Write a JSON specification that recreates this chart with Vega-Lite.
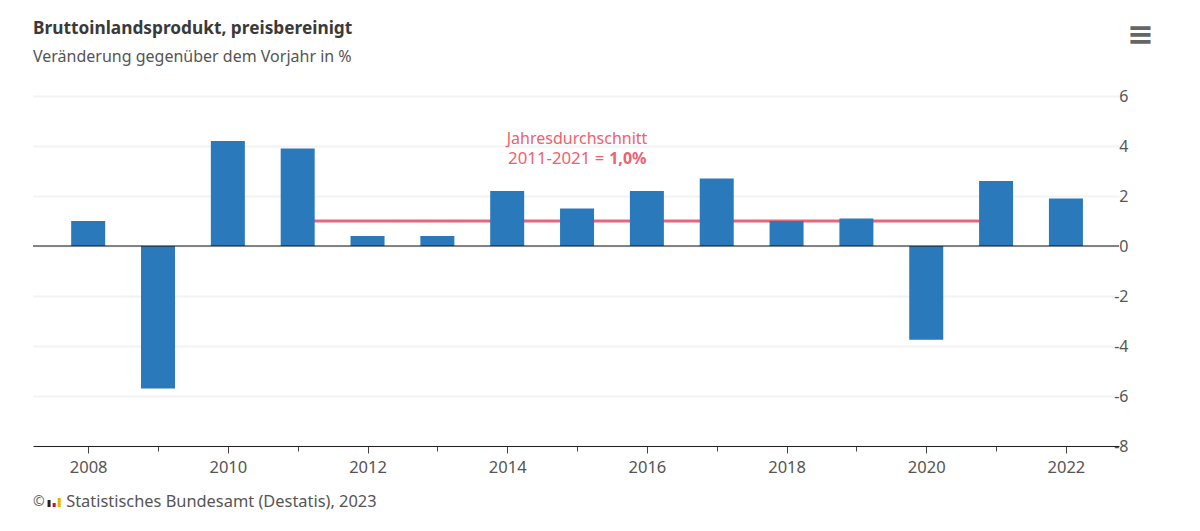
{
"$schema":"https://vega.github.io/schema/vega-lite/v6.json",
"width":1086,"height":350,
"autosize":"none",
"padding":{"left":33,"top":96,"right":81,"bottom":85},
"background":"white",
"config":{"view":{"stroke":null},"font":"Noto Sans"},
"title":{"text":"Bruttoinlandsprodukt, preisbereinigt","subtitle":"Veränderung gegenüber dem Vorjahr in %","anchor":"start","frame":"group","offset":-46,"font":"Noto Sans","fontSize":17.3,"fontWeight":"bold","color":"#3a3a3a","subtitleFont":"Noto Sans","subtitleFontSize":16,"subtitleColor":"#555555","subtitlePadding":11},
"data":{"values":[
{"Jahr":2008,"Wert":1.0},{"Jahr":2009,"Wert":-5.7},{"Jahr":2010,"Wert":4.2},{"Jahr":2011,"Wert":3.9},{"Jahr":2012,"Wert":0.4},{"Jahr":2013,"Wert":0.4},{"Jahr":2014,"Wert":2.2},{"Jahr":2015,"Wert":1.5},{"Jahr":2016,"Wert":2.2},{"Jahr":2017,"Wert":2.7},{"Jahr":2018,"Wert":1.0},{"Jahr":2019,"Wert":1.1},{"Jahr":2020,"Wert":-3.75},{"Jahr":2021,"Wert":2.6},{"Jahr":2022,"Wert":1.9}]},
"layer":[
{"data":{"values":[{"von":2011,"bis":2021,"Schnitt":1.0}]},
 "mark":{"type":"rule","color":"#e4677e","strokeWidth":3},
 "encoding":{"x":{"field":"von","type":"quantitative","scale":{"domain":[2007.21,2022.76],"nice":false,"zero":false,"padding":0},
   "axis":{"values":[2008,2009,2010,2011,2012,2013,2014,2015,2016,2017,2018,2019,2020,2021,2022],"title":null,"grid":false,"labelExpr":"datum.value%2==0?datum.value:''","format":"d","labelFont":"Noto Sans","labelFontSize":16.5,"labelColor":"#555555","labelPadding":6,"labelOverlap":false,"domainColor":"#222222","domainWidth":1,"tickColor":"#444444","tickSize":{"condition":{"test":"datum.value%2==0","value":7},"value":5},"zindex":1}},
  "x2":{"field":"bis"},
  "y":{"field":"Schnitt","type":"quantitative","scale":{"domain":[-8,6],"nice":false,"zero":false},
   "axis":{"orient":"right","values":[-8,-6,-4,-2,0,2,4,6],"title":null,"grid":true,"gridColor":"#f3f3f3","gridWidth":2,"domain":false,"ticks":false,"labelFont":"Noto Sans","labelFontSize":16,"labelColor":"#555555","labelPadding":9,"labelAlign":"right","labelExpr":"''+datum.value"}}}},
{"mark":{"type":"bar","color":"#2a79bb","size":34},
 "encoding":{"x":{"field":"Jahr","type":"quantitative"},"y":{"field":"Wert","type":"quantitative"}}},
{"data":{"values":[{"Null":0}]},"mark":{"type":"rule","color":"#111111","strokeWidth":1},
 "encoding":{"y":{"field":"Null","type":"quantitative"}}},
{"data":{"values":[{"Jahr":2015.0,"y":4.28,"t":"Jahresdurchschnitt"}]},"mark":{"type":"text","align":"center","baseline":"middle","font":"Noto Sans","fontSize":16,"color":"#f0606f"},
 "encoding":{"x":{"field":"Jahr","type":"quantitative"},"y":{"field":"y","type":"quantitative"},"text":{"field":"t"}}},
{"data":{"values":[{"Jahr":2015.39,"y":3.48,"t":"2011-2021 ="}]},"mark":{"type":"text","align":"right","baseline":"middle","font":"Noto Sans","fontSize":16.8,"color":"#f0606f"},
 "encoding":{"x":{"field":"Jahr","type":"quantitative"},"y":{"field":"y","type":"quantitative"},"text":{"field":"t"}}},
{"data":{"values":[{"Jahr":2015.46,"y":3.48,"t":"1,0%"}]},"mark":{"type":"text","align":"left","baseline":"middle","font":"Noto Sans","fontSize":16,"fontWeight":"bold","color":"#f0606f"},
 "encoding":{"x":{"field":"Jahr","type":"quantitative"},"y":{"field":"y","type":"quantitative"},"text":{"field":"t"}}},
{"data":{"values":[{"Jahr":2007.21,"y":-10.24,"t":"©"}]},"mark":{"type":"text","align":"left","baseline":"middle","font":"Noto Sans","fontSize":14,"color":"#666666"},
 "encoding":{"x":{"field":"Jahr","type":"quantitative"},"y":{"field":"y","type":"quantitative"},"text":{"field":"t"}}},
{"data":{"values":[{"Jahr":2007.685,"y":-10.24,"t":"Statistisches Bundesamt (Destatis), 2023"}]},"mark":{"type":"text","align":"left","baseline":"middle","font":"Noto Sans","fontSize":16.4,"color":"#555555"},
 "encoding":{"x":{"field":"Jahr","type":"quantitative"},"y":{"field":"y","type":"quantitative"},"text":{"field":"t"}}},
{"data":{"values":[{"Jahr":2007.44,"o":-10.16,"u":-10.44,"Teil":"a"},{"Jahr":2007.513,"o":-10.28,"u":-10.44,"Teil":"b"},{"Jahr":2007.585,"o":-10.08,"u":-10.44,"Teil":"c"}]},"mark":{"type":"bar","size":3},
 "encoding":{"x":{"field":"Jahr","type":"quantitative"},"y":{"field":"o","type":"quantitative"},"y2":{"field":"u"},"color":{"field":"Teil","type":"nominal","legend":null,"scale":{"domain":["a","b","c"],"range":["#222222","#c8102e","#e8b400"]}}}},
{"data":{"values":[{"Jahr":2023.07,"y":8.45,"t":"≡"}]},"mark":{"type":"text","align":"center","baseline":"middle","font":"DejaVu Sans","fontSize":32,"fontWeight":"bold","color":"#666666"},
 "encoding":{"x":{"field":"Jahr","type":"quantitative"},"y":{"field":"y","type":"quantitative"},"text":{"field":"t"}}}
]
}
